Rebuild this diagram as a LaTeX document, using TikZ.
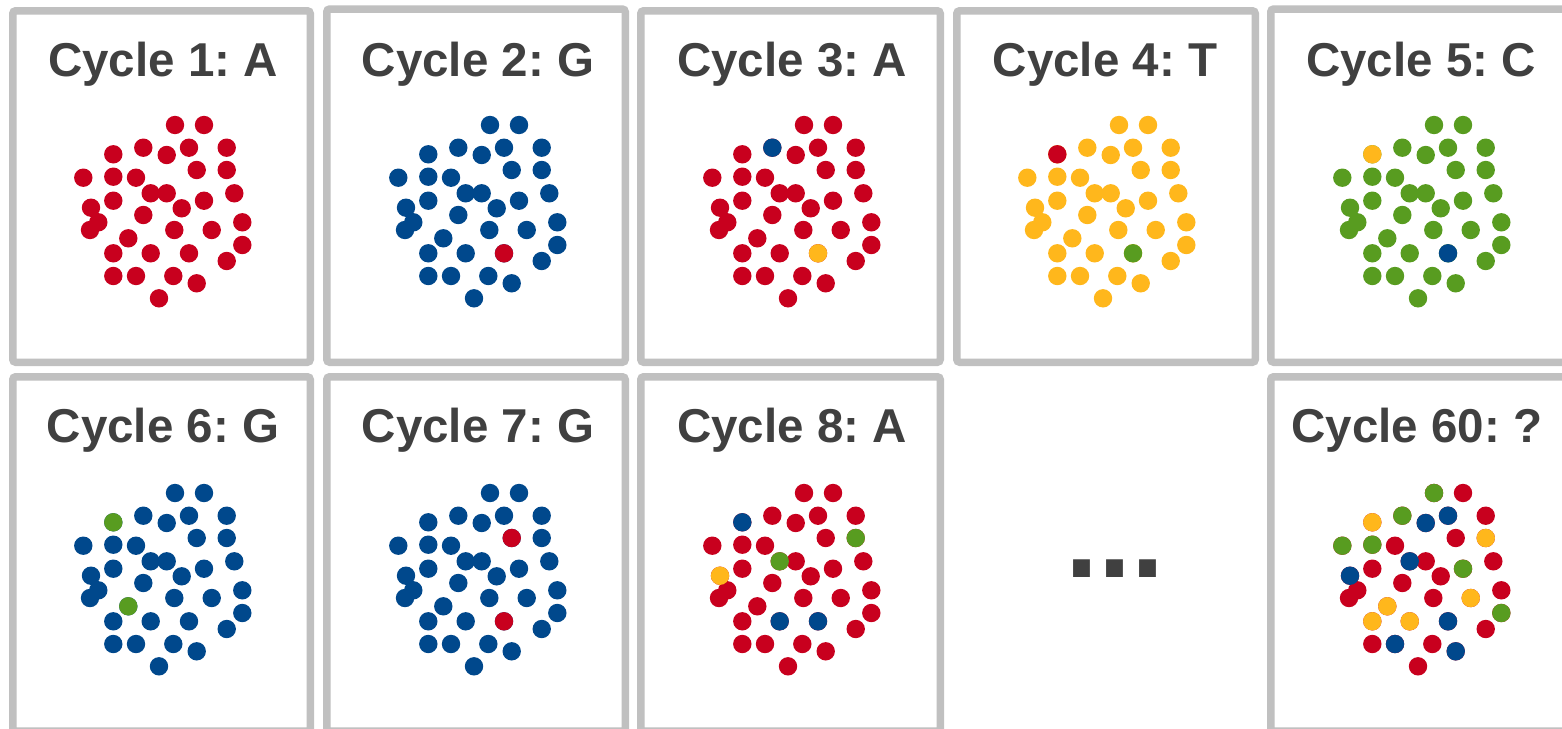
\documentclass[tikz,border=0pt]{standalone}
\usepackage{fontspec}
\setmainfont{Liberation Sans}
\frenchspacing
\definecolor{cred}{RGB}{200,0,30}
\definecolor{cblue}{RGB}{0,72,140}
\definecolor{cyel}{RGB}{255,183,28}
\definecolor{cgrn}{RGB}{88,156,32}
\definecolor{framegray}{RGB}{192,192,192}
\definecolor{ttl}{RGB}{64,64,64}
\def\dotlist{175/125,204/125,113.3/154.3,143.3/147.7,166.7/155,189/147.7,226.7/147.7,83.3/177.7,113.3/176.7,136/177.7,196.7/170,226.7/170,150.7/193.3,166.7/193.3,113.3/200.7,91/207.7,181.7/208.3,204/200.7,234.3/193.3,143.3/215,98.3/222.3,90/230,174.3/230,211.7/230,242.3/222.3,128.3/238.3,113.3/253.3,150.7/253.3,189/253.3,242.3/245,226.7/261,113.3/276,136/276,173.3/276,196.7/283.3,159/298.3}
% #1 name, #2 dx, #3 dy, #4 default colour, #5 exceptions idx/colour
\newcommand\dotpanel[5]{%
  \foreach \px/\py [count=\k] in \dotlist {%
    \coordinate (#1-\k) at (\px+#2,\py+#3);
    \fill[#4] (#1-\k) circle (9.2pt);
  }
  \foreach \i/\c in {#5} {\fill[\c] (#1-\i) circle (9.2pt);}
}
\tikzset{
  panelbox/.style={draw=framegray, line width=7.5pt, rounded corners=3pt},
  title/.style={text=ttl, font=\fontsize{47.5}{50}\selectfont\bfseries\frenchspacing, anchor=base, inner sep=0pt}
}
\begin{document}
\begin{tikzpicture}[x=1pt,y=-1pt]
\useasboundingbox (0,0) rectangle (1562,728);
\clip (0,0) rectangle (1562,728);
\fill[white] (0,0) rectangle (1562,728);
% boxes row 1
\draw[panelbox] (12.75,10.75) rectangle (310.25,362.25);
\draw[panelbox] (326.75,9) rectangle (625.25,362.25);
\draw[panelbox] (640.75,10.75) rectangle (940.25,362.25);
\draw[panelbox] (956.75,10.75) rectangle (1255.25,362.25);
\draw[panelbox] (1270.75,9) rectangle (1578,362.25);
% boxes row 2
\draw[panelbox] (12.75,376.75) rectangle (310.25,731);
\draw[panelbox] (326.75,376.75) rectangle (625.25,731);
\draw[panelbox] (640.75,376.75) rectangle (940.25,731);
\draw[panelbox] (1270.75,376.75) rectangle (1578,731);
% titles
\node[title] (t1) at (163,76) {Cycle 1: A};
\node[title] (t2) at (478,76) {Cycle 2: G};
\node[title] (t3) at (792,76) {Cycle 3: A};
\node[title] (t4) at (1105,76) {Cycle 4: T};
\node[title] (t5) at (1421,76) {Cycle 5: C};
\node[title] (t6) at (163,442) {Cycle 6: G};
\node[title] (t7) at (478,442) {Cycle 7: G};
\node[title] (t8) at (792,442) {Cycle 8: A};
\node[title] (t60) at (1417,442) {Cycle 60: ?};
\node[text=ttl, font=\fontsize{119}{119}\selectfont\bfseries, anchor=base, inner sep=0pt] (ell) at (1115,577) {...};
% dots
\dotpanel{a}{0}{0}{cred}{}
\dotpanel{b}{315}{0}{cblue}{29/cred}
\dotpanel{c}{629}{0}{cred}{4/cblue,29/cyel}
\dotpanel{d}{944}{0}{cyel}{3/cred,29/cgrn}
\dotpanel{e}{1259}{0}{cgrn}{3/cyel,29/cblue}
\dotpanel{f}{0}{368}{cblue}{3/cgrn,26/cgrn}
\dotpanel{g}{315}{368}{cblue}{11/cred,29/cred}
\dotpanel{h}{629}{368}{cred}{3/cblue,12/cgrn,13/cgrn,16/cyel,28/cblue,29/cblue}
\dotpanel{k}{1259}{368}{cred}{1/cgrn,3/cyel,4/cgrn,5/cblue,6/cblue,8/cgrn,9/cgrn,12/cyel,13/cblue,16/cblue,18/cgrn,24/cyel,26/cyel,27/cyel,28/cyel,29/cblue,30/cgrn,33/cblue,35/cblue}
\end{tikzpicture}
\end{document}
